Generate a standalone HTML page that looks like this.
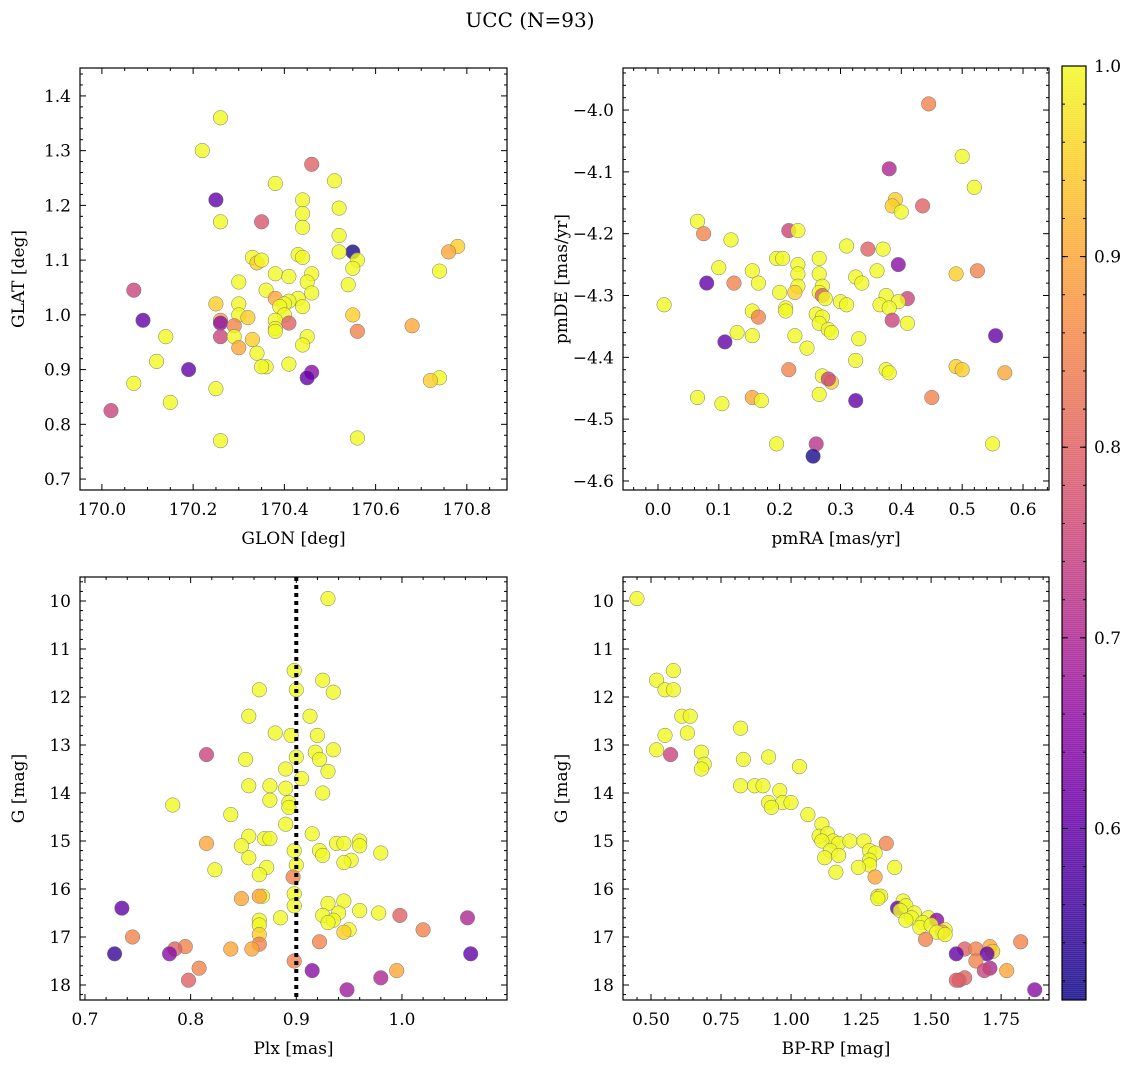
<!DOCTYPE html>
<html><head><meta charset="utf-8"><style>
body{margin:0;background:#fff;}
svg{display:block;font-family:"DejaVu Serif","Liberation Serif",serif;}
</style></head><body>
<svg id="fig" width="1136" height="1067" viewBox="0 0 1136 1067" xmlns="http://www.w3.org/2000/svg">
<text x="530" y="27" font-size="20" text-anchor="middle">UCC (N=93)</text>
</svg>
<script>
// ---- data: [x, y, membership probability] ----
const posData = [[170.22,1.30,1.0],[170.26,1.36,1.0],[170.25,1.21,0.6],[170.26,1.17,1.0],[170.46,1.275,0.8],[170.51,1.245,1.0],[170.38,1.24,1.0],[170.44,1.21,1.0],[170.52,1.195,1.0],[170.35,1.17,0.78],[170.44,1.185,1.0],[170.52,1.145,1.0],[170.44,1.16,1.0],[170.55,1.115,0.52],[170.78,1.125,0.95],[170.76,1.115,0.9],[170.74,1.08,1.0],[170.52,1.115,1.0],[170.43,1.11,1.0],[170.44,1.105,1.0],[170.33,1.105,1.0],[170.34,1.095,0.95],[170.35,1.10,1.0],[170.56,1.10,1.0],[170.46,1.075,1.0],[170.38,1.075,1.0],[170.41,1.07,1.0],[170.45,1.06,1.0],[170.55,1.085,1.0],[170.54,1.055,1.0],[170.30,1.06,1.0],[170.36,1.045,1.0],[170.07,1.045,0.75],[170.46,1.04,1.0],[170.43,1.03,1.0],[170.38,1.03,0.9],[170.41,1.025,1.0],[170.40,1.02,1.0],[170.39,1.015,1.0],[170.44,1.015,1.0],[170.25,1.02,0.95],[170.30,1.02,1.0],[170.30,1.00,1.0],[170.09,0.99,0.6],[170.26,0.99,0.9],[170.26,0.985,0.65],[170.32,0.995,0.95],[170.40,1.0,1.0],[170.38,0.99,1.0],[170.56,0.97,0.85],[170.55,1.0,0.95],[170.68,0.98,0.9],[170.29,0.98,0.85],[170.26,0.96,0.75],[170.29,0.96,1.0],[170.38,0.975,1.0],[170.38,0.97,1.0],[170.45,0.96,1.0],[170.41,0.985,0.8],[170.14,0.96,1.0],[170.30,0.94,0.9],[170.33,0.955,0.95],[170.44,0.945,1.0],[170.34,0.93,1.0],[170.12,0.915,1.0],[170.41,0.91,1.0],[170.36,0.905,1.0],[170.35,0.905,1.0],[170.19,0.90,0.6],[170.46,0.895,0.65],[170.45,0.885,0.6],[170.74,0.885,1.0],[170.72,0.88,0.95],[170.07,0.875,1.0],[170.25,0.865,1.0],[170.15,0.84,1.0],[170.02,0.825,0.75],[170.26,0.77,1.0],[170.56,0.775,1.0]];
const pmData = [[0.445,-3.99,0.85],[0.50,-4.075,1.0],[0.38,-4.095,0.7],[0.52,-4.125,1.0],[0.39,-4.145,0.95],[0.385,-4.155,0.95],[0.40,-4.165,1.0],[0.435,-4.155,0.8],[0.065,-4.18,1.0],[0.075,-4.20,0.85],[0.215,-4.195,0.75],[0.23,-4.195,1.0],[0.12,-4.21,1.0],[0.31,-4.22,1.0],[0.345,-4.225,0.8],[0.37,-4.225,1.0],[0.195,-4.24,1.0],[0.205,-4.24,1.0],[0.265,-4.24,1.0],[0.23,-4.25,1.0],[0.395,-4.25,0.65],[0.10,-4.255,1.0],[0.36,-4.26,1.0],[0.525,-4.26,0.85],[0.155,-4.26,1.0],[0.49,-4.265,0.95],[0.23,-4.265,1.0],[0.265,-4.265,1.0],[0.325,-4.27,1.0],[0.125,-4.28,0.85],[0.08,-4.28,0.6],[0.165,-4.28,1.0],[0.335,-4.28,1.0],[0.27,-4.285,1.0],[0.23,-4.285,1.0],[0.20,-4.295,1.0],[0.225,-4.295,0.95],[0.265,-4.295,1.0],[0.375,-4.30,1.0],[0.27,-4.30,0.8],[0.41,-4.305,0.75],[0.275,-4.305,1.0],[0.395,-4.31,1.0],[0.30,-4.31,1.0],[0.31,-4.315,1.0],[0.365,-4.315,1.0],[0.01,-4.315,1.0],[0.21,-4.32,1.0],[0.38,-4.32,1.0],[0.21,-4.325,1.0],[0.155,-4.325,1.0],[0.26,-4.33,1.0],[0.27,-4.335,1.0],[0.165,-4.335,0.85],[0.385,-4.34,0.75],[0.41,-4.345,1.0],[0.265,-4.345,1.0],[0.28,-4.355,1.0],[0.285,-4.36,1.0],[0.13,-4.36,1.0],[0.155,-4.365,1.0],[0.225,-4.365,1.0],[0.555,-4.365,0.6],[0.33,-4.37,1.0],[0.11,-4.375,0.6],[0.245,-4.385,1.0],[0.325,-4.405,1.0],[0.49,-4.415,0.95],[0.50,-4.42,0.95],[0.215,-4.42,0.85],[0.375,-4.42,1.0],[0.38,-4.425,1.0],[0.57,-4.425,0.9],[0.27,-4.43,1.0],[0.285,-4.44,0.95],[0.28,-4.435,0.75],[0.265,-4.46,1.0],[0.45,-4.465,0.85],[0.155,-4.465,0.9],[0.065,-4.465,1.0],[0.17,-4.47,1.0],[0.105,-4.475,1.0],[0.325,-4.47,0.6],[0.195,-4.54,1.0],[0.55,-4.54,1.0],[0.26,-4.54,0.72],[0.255,-4.56,0.52]];
const plxData = [[0.93,9.95,1],[0.898,11.45,1],[0.925,11.65,1],[0.865,11.85,1],[0.90,11.85,1],[0.935,11.9,1],[0.855,12.4,1],[0.913,12.4,1],[0.88,12.75,1],[0.895,12.8,1],[0.92,12.8,1],[0.918,13.15,1],[0.935,13.1,1],[0.815,13.2,0.75],[0.90,13.25,1],[0.852,13.3,1],[0.922,13.3,1],[0.89,13.5,1],[0.93,13.55,1],[0.905,13.7,1],[0.855,13.85,1],[0.875,13.85,1],[0.89,13.9,1],[0.925,14.0,1],[0.875,14.15,1],[0.893,14.2,1],[0.783,14.25,1],[0.893,14.3,1],[0.838,14.45,1],[0.89,14.65,1],[0.915,14.85,1],[0.855,14.9,1],[0.87,14.95,1],[0.875,14.95,1],[0.815,15.05,0.9],[0.938,15.05,1],[0.945,15.05,1],[0.96,15.0,1],[0.96,15.1,1],[0.848,15.1,1],[0.898,15.2,1],[0.922,15.2,1],[0.925,15.3,1],[0.98,15.25,1],[0.855,15.35,1],[0.952,15.4,1],[0.945,15.45,1],[0.9,15.5,1],[0.872,15.55,1],[0.823,15.6,1],[0.865,15.7,1],[0.897,15.75,0.85],[0.898,16.1,1],[0.868,16.15,1],[0.865,16.15,0.9],[0.848,16.2,0.9],[0.945,16.25,1],[0.93,16.3,1],[0.898,16.35,1],[0.96,16.45,1],[0.978,16.5,1],[0.94,16.5,1],[0.925,16.55,1],[0.935,16.65,1],[0.885,16.6,1],[0.865,16.65,1],[0.93,16.7,1],[0.865,16.75,1],[0.998,16.55,0.8],[1.062,16.6,0.7],[0.735,16.4,0.6],[0.95,16.85,1],[0.945,16.9,0.95],[1.02,16.85,0.85],[0.865,16.95,0.95],[0.745,17.0,0.85],[0.922,17.1,0.85],[0.865,17.15,0.85],[0.795,17.2,0.85],[0.785,17.25,0.8],[0.838,17.25,0.9],[0.858,17.25,0.9],[0.728,17.35,0.55],[0.78,17.35,0.65],[1.065,17.35,0.6],[0.898,17.5,0.85],[0.808,17.65,0.85],[0.995,17.7,0.9],[0.915,17.7,0.65],[0.798,17.9,0.8],[0.98,17.85,0.7],[0.948,18.1,0.68]];
const cmdData = [[0.45,9.95,1],[0.52,11.65,1],[0.58,11.45,1],[0.55,11.85,1],[0.58,11.85,1],[0.61,12.4,1],[0.64,12.4,1],[0.82,12.65,1],[0.55,12.8,1],[0.63,12.75,1],[0.52,13.1,1],[0.57,13.2,0.75],[0.68,13.15,1],[0.83,13.3,1],[0.92,13.25,1],[1.03,13.45,1],[0.69,13.4,1],[0.68,13.5,1],[0.82,13.85,1],[0.87,13.85,1],[0.9,13.85,1],[0.96,13.95,1],[0.92,14.2,1],[0.97,14.2,1],[1.0,14.2,1],[0.93,14.3,1],[1.06,14.45,1],[1.11,14.65,1],[1.1,14.9,1],[1.13,14.85,1],[1.15,15.0,1],[1.11,15.0,1],[1.17,15.05,1],[1.21,15.0,1],[1.26,15.0,1],[1.34,15.05,0.85],[1.14,15.2,1],[1.12,15.35,1],[1.17,15.3,1],[1.28,15.2,1],[1.3,15.25,1],[1.28,15.4,1],[1.28,15.5,1],[1.24,15.55,1],[1.37,15.55,1],[1.16,15.65,1],[1.3,15.75,0.9],[1.31,16.15,1],[1.32,16.15,1],[1.31,16.2,1],[1.4,16.25,1],[1.38,16.4,0.6],[1.41,16.35,1],[1.39,16.45,1],[1.44,16.5,1],[1.43,16.6,1],[1.49,16.6,1],[1.41,16.65,1],[1.47,16.7,1],[1.52,16.65,0.65],[1.55,16.85,1],[1.54,16.9,0.9],[1.46,16.8,1],[1.5,16.75,1],[1.52,16.9,1],[1.55,16.95,1],[1.48,17.05,0.85],[1.62,17.25,0.8],[1.66,17.25,0.85],[1.71,17.2,0.9],[1.72,17.3,0.95],[1.59,17.35,0.6],[1.7,17.35,0.6],[1.82,17.1,0.85],[1.66,17.5,0.85],[1.71,17.65,0.7],[1.69,17.7,0.75],[1.77,17.7,0.9],[1.6,17.9,0.75],[1.62,17.85,0.8],[1.59,17.9,0.8],[1.87,18.1,0.65]];
const glonTicks = [170.0,170.2,170.4,170.6,170.8];
const glatTicks = [0.7,0.8,0.9,1.0,1.1,1.2,1.3,1.4];
const pmraTicks = [0.0,0.1,0.2,0.3,0.4,0.5,0.6];
const pmdeTicks = [-4.0,-4.1,-4.2,-4.3,-4.4,-4.5,-4.6];
const plxTicks = [0.7,0.8,0.9,1.0];
const bprpTicks = [0.5,0.75,1.0,1.25,1.5,1.75];
const gTicks = [10,11,12,13,14,15,16,17,18];
const cbTicks = [0.6,0.7,0.8,0.9,1.0];
const plxLine = 0.9;
const cMin = 0.51, cMax = 1.0;

const NS="http://www.w3.org/2000/svg";
const svg=document.getElementById('fig');
function mk(tag,attrs,parent){const e=document.createElementNS(NS,tag);for(const k in attrs)e.setAttribute(k,attrs[k]);(parent||svg).appendChild(e);return e;}
const plasma=[[13,8,135],[65,4,157],[106,0,168],[143,13,164],[177,42,144],[204,71,120],[225,100,98],[242,132,75],[252,166,54],[252,206,37],[240,249,33]];
function cmap(v){let t=(v-cMin)/(cMax-cMin);t=Math.max(0,Math.min(1,t))*10;const i=Math.min(9,Math.floor(t)),f=t-i;const a=plasma[i],b=plasma[i+1];return 'rgb('+a.map((c,j)=>Math.round(c+(b[j]-c)*f)).join(',')+')';}

function panel(name,box,xr,yr,xt,yt,xdiv,ydiv,xfmt,yfmt,xlab,ylab,data,invert){
  const [L,T,R,B]=box;
  const sx=v=>L+(v-xr[0])/(xr[1]-xr[0])*(R-L);
  const sy=invert?(v=>T+(v-yr[0])/(yr[1]-yr[0])*(B-T)):(v=>B-(v-yr[0])/(yr[1]-yr[0])*(B-T));
  const g=mk('g',{});
  
  
  const pts=mk('g',{},g);
  
  
  data.forEach(d=>{const c=mk('circle',{cx:sx(d[0]).toFixed(1),cy:sy(d[1]).toFixed(1),r:7.3,fill:cmap(d[2]),'fill-opacity':0.8,stroke:'#777','stroke-width':0.5},pts);
    
    });
  const fr=mk('rect',{x:L,y:T,width:R-L,height:B-T,fill:'none',stroke:'#000','stroke-width':1.2},g);
  
  
  const ax=mk('g',{stroke:'#000','stroke-width':1},g);
  
  
  function xtick(v,len){const x=sx(v);if(x<L-0.5||x>R+0.5)return;mk('line',{x1:x,x2:x,y1:B,y2:B-len},ax);mk('line',{x1:x,x2:x,y1:T,y2:T+len},ax);}
  function ytick(v,len){const y=sy(v);if(y<T-0.5||y>B+0.5)return;mk('line',{x1:L,x2:L+len,y1:y,y2:y},ax);mk('line',{x1:R,x2:R-len,y1:y,y2:y},ax);}
  const xs=xt[1]-xt[0], ys=yt[1]-yt[0];
  for(let k=-xdiv*3;k<=(xt.length+2)*xdiv;k++)xtick(xt[0]+k*xs/xdiv,k%xdiv===0?6:3);
  for(let k=-ydiv*3;k<=(yt.length+2)*ydiv;k++)ytick(yt[0]+k*ys/ydiv,k%ydiv===0?6:3);
  xt.forEach(v=>{const t=mk('text',{x:sx(v),y:B+25,'font-size':17,'text-anchor':'middle'},g);t.textContent=xfmt(v);
    
    });
  yt.forEach(v=>{const t=mk('text',{x:L-9,y:sy(v)+6,'font-size':17,'text-anchor':'end'},g);t.textContent=yfmt(v);
    
    });
  const xl=mk('text',{x:(L+R)/2,y:B+54,'font-size':17,'text-anchor':'middle'},g);xl.textContent=xlab;
  
  
  const yl=mk('text',{x:0,y:0,'font-size':17,'text-anchor':'middle',transform:`translate(${L-56},${(T+B)/2}) rotate(-90)`},g);yl.textContent=ylab;
  
  
  return {sx,sy,g,T,B};
}
const minus=s=>s.replace('-','\u2212');
panel('position',[80,68,507,490],[169.952,170.888],[0.68,1.451],glonTicks,glatTicks,4,5,v=>v.toFixed(1),v=>v.toFixed(1),'GLON [deg]','GLAT [deg]',posData,false);
panel('proper-motion',[623,68,1049,490],[-0.0575,0.6427],[-4.6146,-3.932],pmraTicks,pmdeTicks,5,5,v=>v.toFixed(1),v=>minus(v.toFixed(1)),'pmRA [mas/yr]','pmDE [mas/yr]',pmData,false);
const p3=panel('parallax',[80,577,507,1000],[0.6953,1.0994],[9.5,18.3125],plxTicks,gTicks,5,5,v=>v.toFixed(1),v=>String(v),'Plx [mas]','G [mag]',plxData,true);
panel('cmd',[623,577,1049,1000],[0.4,1.921],[9.5,18.3125],bprpTicks,gTicks,5,5,v=>v.toFixed(2),v=>String(v),'BP-RP [mag]','G [mag]',cmdData,true);
const vl=mk('line',{x1:p3.sx(plxLine),x2:p3.sx(plxLine),y1:p3.T,y2:p3.B,stroke:'#000','stroke-width':4,'stroke-dasharray':'4 4'});



// colorbar
const cb=mk('g',{});


const cT=66,cB=1000,cL=1062,cR=1086;
const cy=v=>cB-(v-cMin)/(cMax-cMin)*(cB-cT);
for(let y=cT;y<cB;y+=2){const v=cMin+(cB-y-1)/(cB-cT)*(cMax-cMin);mk('rect',{x:cL,y:y,width:cR-cL,height:2.5,fill:cmap(v),'fill-opacity':0.8},cb);}
mk('rect',{x:cL,y:cT,width:cR-cL,height:cB-cT,fill:'none',stroke:'#000','stroke-width':1.2},cb);
cbTicks.forEach(v=>{const y=cy(v);mk('line',{x1:cR,x2:cR-6,y1:y,y2:y,stroke:'#000'},cb);mk('line',{x1:cL,x2:cL+6,y1:y,y2:y,stroke:'#000'},cb);
  const t=mk('text',{x:cR+8,y:y+6,'font-size':17},cb);t.textContent=v.toFixed(1);
  
  });
for(let v=0.52;v<1.0;v+=0.02){const y=cy(v);mk('line',{x1:cR,x2:cR-3,y1:y,y2:y,stroke:'#000'},cb);mk('line',{x1:cL,x2:cL+3,y1:y,y2:y,stroke:'#000'},cb);}
</script>
</body></html>
